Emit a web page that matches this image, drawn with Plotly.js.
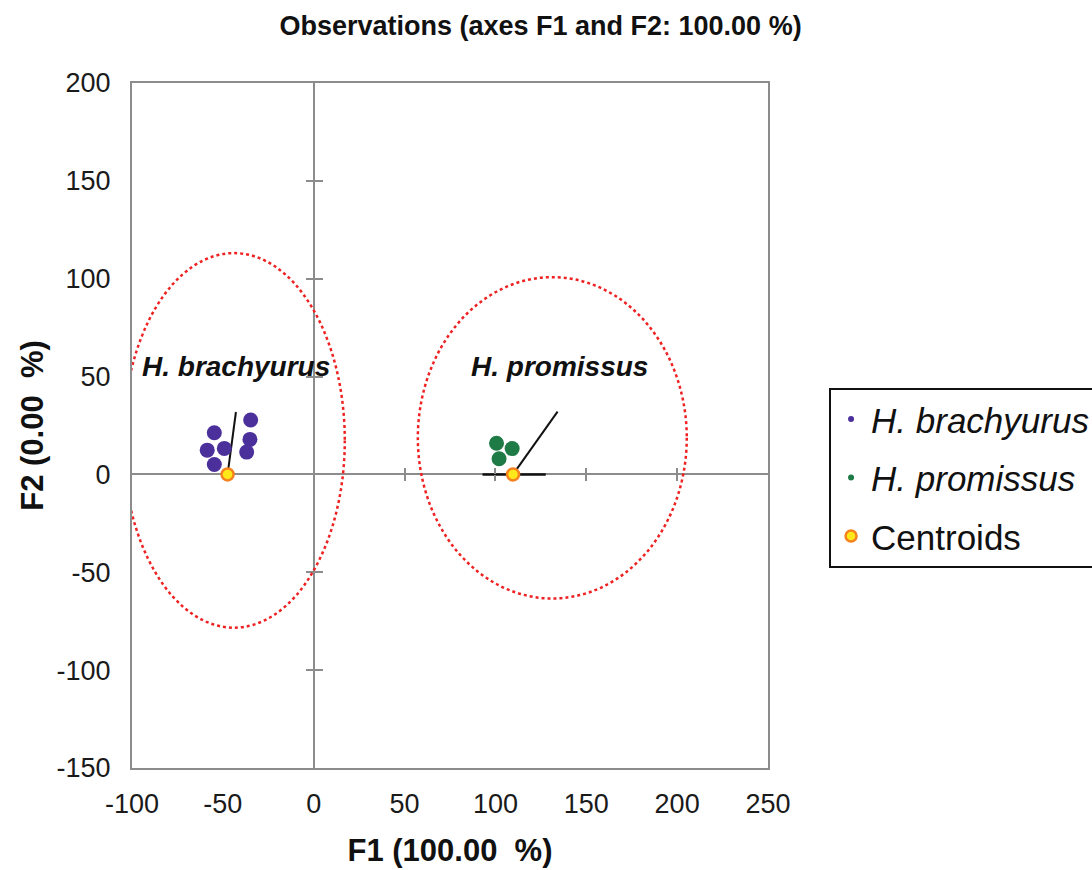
<!DOCTYPE html>
<html>
<head>
<meta charset="utf-8">
<script src="https://cdn.plot.ly/plotly-3.0.1.min.js"></script>
<style>html,body{margin:0;padding:0;background:#fff;}#chart{width:1092px;height:870px;}</style>
</head>
<body>
<div id="chart"></div>
<script>
// Observations
var brachyurusF1 = [-54.7, -34.7, -58.6, -49.2, -35.1, -36.9, -54.7];
var brachyurusF2 = [21.3, 27.8, 12.4, 13.3, 17.9, 11.4, 5.1];
var promissusF1 = [100.6, 109.2, 102.0];
var promissusF2 = [15.9, 13.2, 8.0];
// Centroids
var centroidF1 = [-47.4, 109.7];
var centroidF2 = [0, 0];
// Lines from centroids
var brachyLineF1 = [-47.4, -42.8];
var brachyLineF2 = [0, 31.9];
var promLineF1 = [109.7, 134.2];
var promLineF2 = [0, 32.1];
var promBarF1 = [92.9, 127.7];
var promBarF2 = [0, 0];
// Confidence ellipses: [centerF1, centerF2, radiusF1, radiusF2]
var brachyEllipse = [-43.9, 17.4, 61, 95.7];
var promEllipse = [131.3, 18.7, 74, 82.1];
// Group labels
var groupNames = ["H. brachyurus", "H. promissus"];
var groupLabelF1 = [-43, 135.5];
var groupLabelF2 = [55, 55];
// Ticks
var xTickVals = [-100, -50, 0, 50, 100, 150, 200, 250];
var xTickText = ["-100", "-50", "0", "50", "100", "150", "200", "250"];
var yTickVals = [-150, -100, -50, 0, 50, 100, 150, 200];
var yTickText = ["-150", "-100", "-50", "0", "50", "100", "150", "200"];
var xCrossTicks = [50, 100, 150, 200];
var yCrossTicks = [-100, -50, 50, 100, 150];

var purple = "#4B2F9B", green = "#1E7B45";
var FONT = "Liberation Sans, Arial, sans-serif";

var traces = [
  {x: brachyLineF1, y: brachyLineF2, mode: "lines", line: {color: "#111", width: 2}, showlegend: false, hoverinfo: "skip"},
  {x: promLineF1, y: promLineF2, mode: "lines", line: {color: "#111", width: 2}, showlegend: false, hoverinfo: "skip"},
  {x: promBarF1, y: promBarF2, mode: "lines", line: {color: "#111", width: 2.5}, showlegend: false, hoverinfo: "skip"},
  {x: brachyurusF1, y: brachyurusF2, mode: "markers", marker: {color: purple, size: 15}, showlegend: false},
  {x: promissusF1, y: promissusF2, mode: "markers", marker: {color: green, size: 15}, showlegend: false},
  {x: centroidF1, y: centroidF2, mode: "markers", marker: {color: "#FFE81A", size: 12, line: {color: "#F5821F", width: 2.5}}, showlegend: false},
  // legend entries
  {x: [null], y: [null], mode: "markers", legendgroup: "a", name: "<i>" + groupNames[0] + "</i>", marker: {color: purple, size: 6}},
  {x: [null], y: [null], mode: "markers", legendgroup: "b", name: "<i>" + groupNames[1] + "</i>", marker: {color: green, size: 6}},
  {x: [null], y: [null], mode: "markers", legendgroup: "c", name: "Centroids", marker: {color: "#FFE81A", size: 11, line: {color: "#F5821F", width: 2.5}}}
];

function ell(e) {
  return {type: "circle", xref: "x", yref: "y", x0: e[0] - e[2], x1: e[0] + e[2], y0: e[1] - e[3], y1: e[1] + e[3],
          line: {color: "#EE2222", width: 2.5, dash: "dot"}, layer: "above"};
}

var axisTick = {family: FONT, size: 27, color: "#1a1a1a"};
var layout = {
  width: 1092, height: 870,
  margin: {l: 132, r: 324, t: 83, b: 102, autoexpand: false},
  paper_bgcolor: "#fff", plot_bgcolor: "#fff",
  font: {family: FONT, color: "#111"},
  title: {text: "<b>Observations (axes F1 and F2: 100.00 %)</b>", font: {family: FONT, size: 27, color: "#111"},
          x: 0.495, xref: "container", xanchor: "center", y: 0.982, yref: "container", yanchor: "top"},
  xaxis: {range: [-100, 250], tickvals: xTickVals, ticktext: xTickText, tickfont: axisTick, ticks: "", showgrid: false,
          ticklabelstandoff: 11, automargin: false,
          zeroline: true, zerolinecolor: "#8c8c8c", zerolinewidth: 2, showline: true, linecolor: "#8c8c8c", linewidth: 2, mirror: true,
          title: {text: "<b>F1 (100.00  %)</b>", font: {family: FONT, size: 31, color: "#111"}, standoff: 21}, fixedrange: true},
  yaxis: {range: [-150, 200], tickvals: yTickVals, ticktext: yTickText, tickfont: axisTick, ticks: "", showgrid: false,
          ticklabelstandoff: 14, automargin: false,
          zeroline: true, zerolinecolor: "#8c8c8c", zerolinewidth: 2, showline: true, linecolor: "#8c8c8c", linewidth: 2, mirror: true,
          title: {text: "<b>F2 (0.00  %)</b>", font: {family: FONT, size: 31, color: "#111"}, standoff: 4}, fixedrange: true},
  xaxis2: {overlaying: "x", matches: "x", anchor: "free", position: 150/350, tickvals: xCrossTicks, showticklabels: false,
           ticks: "outside", ticklen: 6, tickwidth: 2, tickcolor: "#8c8c8c", showgrid: false, zeroline: false, showline: false},
  xaxis3: {overlaying: "x", matches: "x", anchor: "free", position: 150/350, tickvals: xCrossTicks, showticklabels: false,
           ticks: "inside", ticklen: 6, tickwidth: 2, tickcolor: "#8c8c8c", showgrid: false, zeroline: false, showline: false},
  yaxis2: {overlaying: "y", matches: "y", anchor: "free", position: 100/350, tickvals: yCrossTicks, showticklabels: false,
           ticks: "outside", ticklen: 8, tickwidth: 2, tickcolor: "#8c8c8c", showgrid: false, zeroline: false, showline: false},
  yaxis3: {overlaying: "y", matches: "y", anchor: "free", position: 100/350, tickvals: yCrossTicks, showticklabels: false,
           ticks: "inside", ticklen: 8, tickwidth: 2, tickcolor: "#8c8c8c", showgrid: false, zeroline: false, showline: false},
  shapes: [ell(brachyEllipse), ell(promEllipse)],
  annotations: groupNames.map(function (n, i) {
    return {x: groupLabelF1[i], y: groupLabelF2[i], xref: "x", yref: "y", text: "<b><i>" + n + "</i></b>", showarrow: false,
            font: {family: FONT, size: 28, color: "#111"}};
  }),
  legend: {x: 1.096, y: 0.555, xanchor: "left", yanchor: "top", bordercolor: "#111", borderwidth: 2, bgcolor: "#fff",
           font: {family: FONT, size: 35, color: "#111"}, itemsizing: "trace", tracegroupgap: 10, itemwidth: 30},
  showlegend: true
};

// dummy traces bound to the overlay axes so they render
traces.push({x: [null], y: [null], xaxis: "x2", yaxis: "y2", showlegend: false, hoverinfo: "skip"});
traces.push({x: [null], y: [null], xaxis: "x3", yaxis: "y3", showlegend: false, hoverinfo: "skip"});

Plotly.newPlot("chart", traces, layout, {displayModeBar: false, staticPlot: true});
</script>
</body>
</html>
